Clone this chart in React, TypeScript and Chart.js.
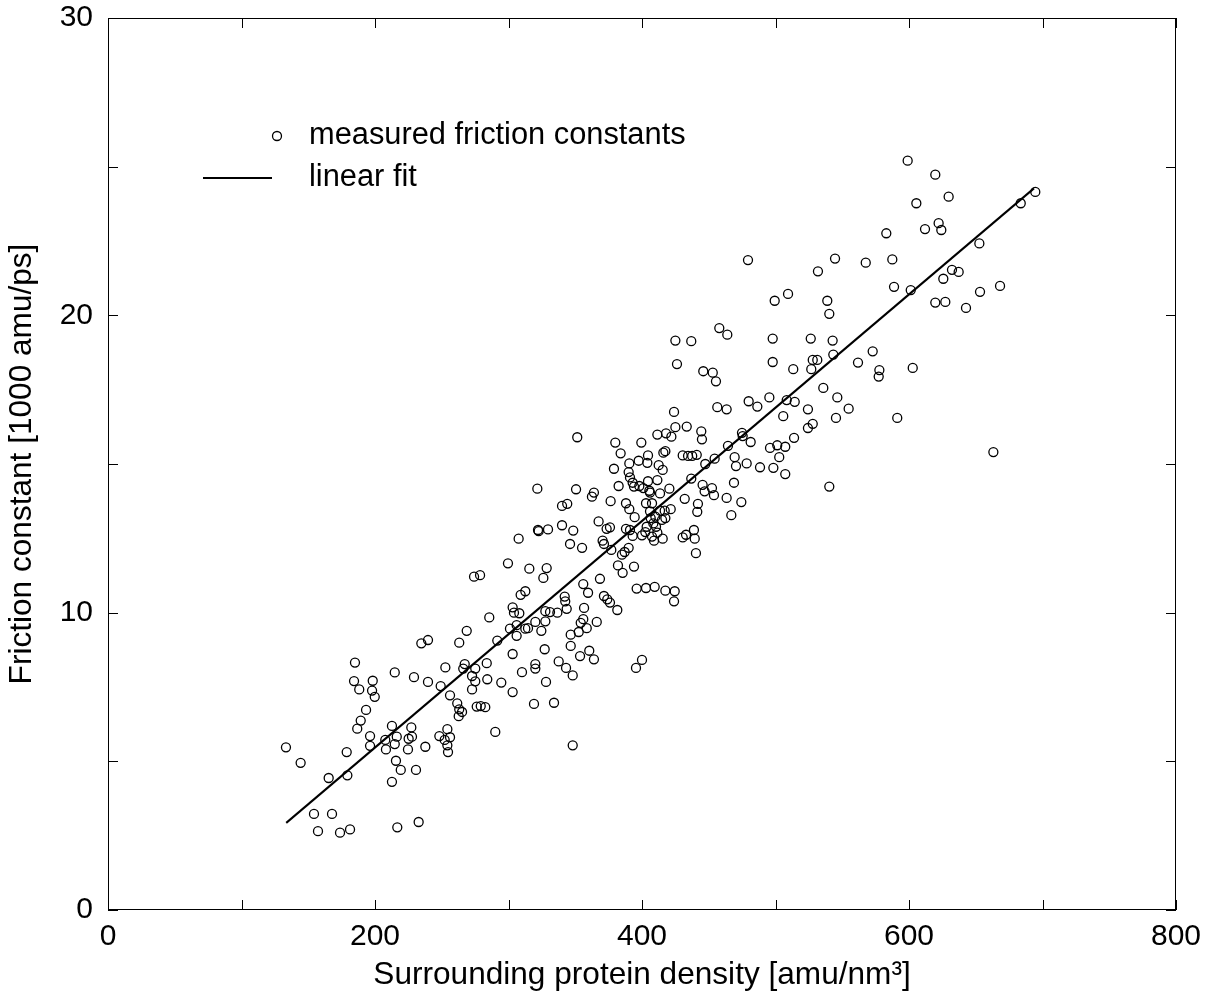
import React, { useEffect, useRef } from 'react';
import { Chart, registerables } from 'chart.js';

Chart.register(...registerables);

// Surrounding protein density [amu/nm^3]
const density = [
  185.0, 214.8, 229.2, 184.3, 188.2, 198.3, 197.8, 199.8, 193.3, 189.3, 186.7, 196.3, 196.3, 212.7, 216.3, 207.7, 214.8, 208.2, 227.2, 227.7,
  225.2, 224.7, 215.7, 219.3, 230.7, 212.7, 133.3, 144.3, 178.8, 165.3, 179.3, 154.3, 167.8, 157.3, 173.8, 181.3, 216.7, 232.7,
  299.6, 315.6, 328.6, 326.1, 274.2, 278.7, 309.1, 312.6, 303.1, 304.1, 308.1, 285.6, 327.6, 331.1, 336.6, 320.1, 327.6, 301.1, 306.1, 312.6,
  314.6, 324.6, 306.1, 268.7, 234.7, 239.7, 263.1, 291.6, 303.1, 327.1, 337.6, 320.1, 320.1, 310.1, 252.7, 267.2, 266.1, 275.1, 283.7, 272.7,
  284.1, 275.1, 272.7, 239.7, 249.2, 256.2, 261.6, 263.1, 265.2, 262.7, 276.2, 279.2, 282.6, 294.6, 303.1, 328.1, 319.1, 334.1, 290.1, 254.2,
  248.2, 252.2, 256.2, 254.2, 254.7, 237.7,
  382.0, 385.5, 394.0, 368.5, 356.0, 359.6, 371.5, 374.0, 376.0, 381.5, 396.0, 403.0, 409.5, 417.5, 424.5, 424.0, 342.1, 342.5, 343.6, 356.6,
  356.0, 354.1, 358.6, 352.6, 346.6, 366.1, 346.6, 353.6, 360.5, 364.0, 343.1, 348.1, 400.0, 395.5, 348.1,
  351.5, 380.0, 399.5, 411.5, 418.0, 422.0, 425.0, 433.5, 384.0, 390.5, 397.5, 404.5, 404.0, 416.0, 417.5, 430.5, 434.5, 412.5, 415.5, 379.0,
  390.0, 391.0, 393.0, 394.0, 398.0, 404.5, 411.5, 401.0, 405.5, 406.0, 413.5, 420.5, 382.5, 350.6, 364.0, 362.5, 340.1, 344.0, 376.5, 388.0,
  390.5, 403.0, 407.5, 394.5, 406.0, 413.5, 417.0, 421.5, 432.0, 406.5, 410.0, 415.0, 417.5, 408.5, 403.5, 410.5, 367.5, 373.5, 376.0, 388.0,
  391.0, 340.1, 348.5, 329.6, 393.0, 400.0, 407.5, 411.5, 415.5, 409.0, 402.5, 430.5, 433.0, 370.5, 371.5, 346.1, 355.1, 390.0, 387.0, 385.0,
  377.0,
  321.6, 322.1, 322.6, 307.6,
  438.9, 439.5, 440.4,
  457.9, 463.9, 436.9, 425.0, 497.9, 526.4, 497.9, 513.3, 527.9, 526.8, 426.2, 445.9, 453.0, 455.4, 479.9, 486.4, 495.4, 508.4, 514.4, 524.3,
  505.8, 456.4, 463.4, 444.4, 444.9, 474.9, 475.4, 481.4, 464.4, 513.9, 527.9, 524.3, 495.9, 501.3, 507.3, 502.8, 498.4, 507.3, 488.4, 478.4,
  469.4, 470.4, 454.4, 447.4, 437.6, 441.0, 436.9, 468.9, 445.4, 446.9, 452.4, 453.9, 441.9, 441.4, 463.4, 474.4, 466.9,
  424.0,
  531.8, 588.8, 601.3, 619.7, 538.8, 540.3, 542.8, 543.3, 572.8, 561.8, 577.8, 577.3, 602.8, 531.3, 535.8, 546.3, 554.8, 545.3, 591.2, 540.3,
  619.7, 629.7, 622.2, 624.2, 612.0, 694.6, 683.7, 652.7, 632.2, 637.2, 625.7, 627.2, 642.7, 653.2, 668.2, 663.2,
  479.4, 509.4, 499.4,
  599.0, 605.5, 583.0, 544.6, 567.6, 587.5,
];

// Friction constant [1000 amu/ps]
const friction = [
  8.32, 7.99, 7.83, 7.70, 7.42, 7.71, 7.38, 7.17, 6.73, 6.37, 6.10, 5.85, 5.52, 6.19, 5.83, 5.72, 5.58, 5.40, 6.14, 5.83,
  5.76, 5.40, 5.02, 4.71, 4.71, 4.31, 5.47, 4.95, 5.31, 4.44, 4.53, 3.23, 3.23, 2.65, 2.60, 2.71, 2.78, 2.96,
  11.66, 11.48, 11.50, 11.17, 11.21, 11.26, 10.60, 10.72, 10.18, 10.00, 9.98, 9.84, 10.05, 10.02, 10.00, 9.69, 9.71, 9.46, 9.58, 9.46,
  9.48, 9.39, 9.22, 9.39, 8.97, 9.08, 8.99, 9.06, 8.61, 8.77, 8.36, 8.27, 8.12, 8.00, 8.16, 8.27, 8.12, 8.12, 8.30, 7.87,
  7.76, 7.69, 7.42, 7.67, 7.53, 7.22, 6.95, 6.75, 6.66, 6.52, 6.84, 6.86, 6.82, 7.65, 7.33, 7.67, 6.93, 6.97, 5.99, 6.08,
  5.85, 5.72, 5.81, 5.54, 5.31, 5.49,
  11.59, 11.34, 11.55, 11.14, 10.96, 10.67, 10.56, 10.45, 10.34, 10.09, 10.81, 10.83, 10.87, 10.74, 10.72, 10.38, 10.54, 10.38, 10.13, 10.16,
  9.78, 9.66, 9.48, 9.35, 9.26, 9.69, 8.88, 8.54, 8.72, 8.43, 8.14, 7.89, 8.41, 8.14, 5.54,
  15.90, 15.72, 15.72, 15.99, 16.03, 15.92, 16.24, 16.26, 15.36, 15.02, 15.11, 15.29, 15.04, 15.38, 15.43, 15.29, 15.27, 14.96, 14.80, 14.84,
  14.73, 14.55, 14.37, 14.24, 14.26, 14.42, 14.46, 14.19, 14.10, 14.04, 14.01, 14.17, 14.26, 14.15, 14.04, 13.90, 13.59, 13.66, 13.75, 13.68,
  13.48, 13.68, 13.68, 13.21, 13.41, 13.43, 13.43, 13.48, 13.83, 13.18, 13.23, 13.12, 13.18, 13.00, 12.89, 12.89, 13.07, 12.82, 12.87, 12.82,
  12.78, 12.94, 12.76, 12.80, 12.58, 12.60, 12.56, 12.69, 12.49, 12.42, 12.71, 12.53, 12.62, 12.42, 12.31, 12.31, 12.18, 12.18, 12.04, 11.95,
  12.11,
  14.17, 12.78, 12.74, 12.49,
  12.78, 12.49, 12.00,
  19.57, 19.35, 19.13, 19.15, 19.22, 19.22, 18.43, 18.19, 18.50, 18.19, 18.36, 18.12, 18.07, 17.78, 17.11, 16.93, 17.24, 17.15, 17.09, 16.84,
  16.61, 16.91, 16.84, 16.10, 15.83, 16.05, 15.94, 15.74, 15.61, 15.88, 16.35, 16.21, 15.54, 15.63, 15.58, 15.23, 14.87, 14.66, 14.89, 15.02,
  15.23, 14.93, 15.18, 15.00, 15.27, 15.31, 14.51, 14.37, 14.30, 14.08, 14.19, 13.95, 13.66, 13.39, 13.86, 13.72, 13.28,
  16.75,
  21.48, 20.96, 20.85, 20.43, 20.49, 20.05, 19.15, 18.68, 18.79, 18.41, 18.16, 17.94, 18.23, 18.50, 17.56, 17.24, 16.86, 16.55, 16.55, 14.24,
  24.73, 23.99, 23.10, 22.87, 22.90, 24.15, 23.77, 22.42, 21.53, 21.46, 21.23, 20.45, 20.25, 20.79, 20.99, 15.40,
  21.86, 20.72, 20.49,
  25.20, 23.77, 22.76, 21.91, 21.77, 21.88,
];

// Linear fit end points
const fitDensity = [133.5, 693.6];
const fitFriction = [2.93, 24.27];

const xTickMarks = [0, 100, 200, 300, 400, 500, 600, 700, 800];
const yTickMarks = [0, 5, 10, 15, 20, 25, 30];
const xTitle = 'Surrounding protein density [amu/nm³]';
const yTitle = 'Friction constant [1000 amu/ps]';
const legendLabels = ['measured friction constants', 'linear fit'];

const FONT = '"Liberation Sans", Arial, Helvetica, sans-serif';

export default function App() {
  const ref = useRef<HTMLCanvasElement>(null);

  useEffect(() => {
    document.body.style.margin = '0';
    const canvas = ref.current;
    if (!canvas) return;

    const framePlugin = {
      id: 'frameTicksLegend',
      afterDraw(chart: any) {
        const { ctx, chartArea: a, scales } = chart;
        ctx.save();
        ctx.strokeStyle = '#000';
        ctx.lineWidth = 1;
        ctx.strokeRect(a.left + 0.5, a.top + 0.5, a.right - a.left - 1, a.bottom - a.top - 1);
        const L = 10;
        ctx.beginPath();
        xTickMarks.forEach((v) => {
          const px = Math.round(scales.x.getPixelForValue(v)) + 0.5;
          ctx.moveTo(px, a.bottom);
          ctx.lineTo(px, a.bottom - L);
          ctx.moveTo(px, a.top);
          ctx.lineTo(px, a.top + L);
        });
        yTickMarks.forEach((v) => {
          const py = Math.round(scales.y.getPixelForValue(v)) + 0.5;
          ctx.moveTo(a.left, py);
          ctx.lineTo(a.left + L, py);
          ctx.moveTo(a.right, py);
          ctx.lineTo(a.right - L, py);
        });
        ctx.stroke();

        // legend (key)
        ctx.fillStyle = '#000';
        ctx.font = `30.8px ${FONT}`;
        ctx.textAlign = 'left';
        ctx.textBaseline = 'middle';
        const textX = a.left + 201;
        const row1 = a.top + 118;
        const row2 = a.top + 160;
        ctx.lineWidth = 1.3;
        ctx.beginPath();
        ctx.arc(a.left + 169, row1, 4.5, 0, Math.PI * 2);
        ctx.stroke();
        ctx.fillText(legendLabels[0], textX, row1);
        ctx.beginPath();
        ctx.lineWidth = 2;
        ctx.moveTo(a.left + 95, row2);
        ctx.lineTo(a.left + 164, row2);
        ctx.stroke();
        ctx.fillText(legendLabels[1], textX, row2);
        ctx.restore();
      },
    };

    const chart = new Chart(canvas, {
      type: 'scatter',
      data: {
        datasets: [
          {
            type: 'scatter',
            label: legendLabels[0],
            data: density.map((d, i) => ({ x: d, y: friction[i] })),
            pointStyle: 'circle',
            pointRadius: 4.5,
            pointBorderWidth: 1.3,
            pointBackgroundColor: 'rgba(0,0,0,0)',
            pointBorderColor: '#000',
            borderColor: '#000',
            showLine: false,
          },
          {
            type: 'line',
            label: legendLabels[1],
            data: fitDensity.map((d, i) => ({ x: d, y: fitFriction[i] })),
            borderColor: '#000',
            borderWidth: 2,
            pointRadius: 0,
            showLine: true,
            fill: false,
          } as any,
        ],
      },
      options: {
        animation: false,
        responsive: false,
        devicePixelRatio: 1,
        layout: { padding: { left: 0, top: 18, right: 35, bottom: 0 } },
        plugins: {
          legend: { display: false },
          tooltip: { enabled: false },
        },
        scales: {
          x: {
            type: 'linear',
            min: 0,
            max: 800,
            afterFit: (s: any) => {
              s.height = 95;
              s.paddingLeft = 0;
              s.paddingRight = 0;
            },
            ticks: {
              stepSize: 200,
              color: '#000',
              padding: 9,
              maxRotation: 0,
              font: { family: FONT, size: 30 },
            },
            grid: { display: false, drawTicks: false },
            border: { display: false },
            title: {
              display: true,
              text: xTitle,
              color: '#000',
              font: { family: FONT, size: 31.6 },
              padding: { top: 4, bottom: 11 },
            },
          },
          y: {
            type: 'linear',
            min: 0,
            max: 30,
            afterFit: (s: any) => {
              s.width = 108;
              s.paddingTop = 0;
              s.paddingBottom = 0;
            },
            ticks: {
              stepSize: 10,
              color: '#000',
              padding: 15,
              font: { family: FONT, size: 30 },
            },
            grid: { display: false, drawTicks: false },
            border: { display: false },
            title: {
              display: true,
              text: yTitle,
              color: '#000',
              font: { family: FONT, size: 31.6 },
              padding: { top: 3, bottom: 4 },
            },
          },
        },
      },
      plugins: [framePlugin],
    });

    return () => chart.destroy();
  }, []);

  return (
    <div style={{ position: 'fixed', left: 0, top: 0, width: 1211, height: 1005, background: '#fff' }}>
      <canvas ref={ref} width={1211} height={1005} style={{ display: 'block', width: 1211, height: 1005 }} />
    </div>
  );
}
